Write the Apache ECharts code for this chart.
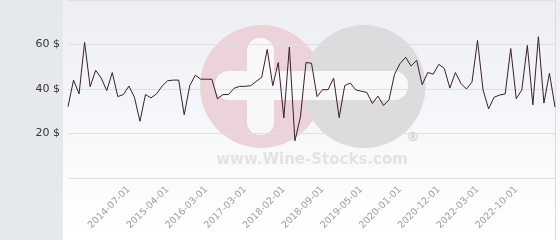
<!DOCTYPE html>
<html>
<head>
<meta charset="utf-8">
<script src="https://cdn.jsdelivr.net/npm/echarts@6/dist/echarts.min.js"></script>
<style>
html,body{margin:0;padding:0;background:#fff;}
#c{width:560px;height:240px;}
</style>
</head>
<body>
<div id="c"></div>
<script>
const categories = [
 '2013-08-01','2013-09-01','2013-10-01','2013-11-01','2013-12-01','2014-01-01','2014-02-01','2014-03-01','2014-04-01','2014-05-01','2014-06-01',
 '2014-07-01','2014-08-01','2014-09-01','2014-10-01','2014-12-01','2015-01-01','2015-03-01',
 '2015-04-01','2015-05-01','2015-07-01','2015-09-01','2015-10-01','2015-12-01','2016-01-01',
 '2016-03-01','2016-05-01','2016-06-01','2016-08-01','2016-10-01','2016-11-01','2017-01-01',
 '2017-03-01','2017-04-01','2017-06-01','2017-07-01','2017-09-01','2017-10-01','2017-12-01',
 '2018-02-01','2018-03-01','2018-04-01','2018-05-01','2018-06-01','2018-07-01','2018-08-01',
 '2018-09-01','2018-10-01','2018-11-01','2018-12-01','2019-01-01','2019-03-01','2019-04-01',
 '2019-05-01','2019-06-01','2019-07-01','2019-08-01','2019-09-01','2019-10-01','2019-11-01',
 '2020-01-01','2020-02-01','2020-04-01','2020-05-01','2020-07-01','2020-08-01','2020-10-01',
 '2020-12-01','2021-02-01','2021-04-01','2021-06-01','2021-08-01','2021-10-01','2021-12-01',
 '2022-03-01','2022-04-01','2022-05-01','2022-06-01','2022-07-01','2022-08-01','2022-09-01',
 '2022-10-01','2022-11-01','2022-12-01','2023-01-01','2023-02-01','2023-03-01','2023-04-01','2023-05-01'
];
const prices = [
 32.1,44.0,37.8,61.0,41.0,48.4,44.9,39.3,47.4,36.6,37.5,
 41.3,36.3,25.5,37.5,36.0,37.8,41.3,
 43.7,44.0,44.0,28.4,41.5,46.2,44.4,
 44.4,44.4,35.6,37.5,37.5,40.3,41.2,
 41.2,41.5,43.4,45.2,57.8,41.5,51.9,
 27.0,58.8,16.7,27.4,51.9,51.6,36.6,
 39.7,39.7,44.9,27.1,41.5,42.7,39.6,
 39.0,38.5,33.5,36.8,32.6,35.1,46.6,
 51.4,54.3,50.3,52.9,41.9,47.4,46.7,
 51.1,49.2,40.4,47.4,42.5,40.0,43.1,
 61.8,39.6,31.1,36.3,37.3,37.8,58.2,
 35.6,39.6,59.6,32.9,63.5,33.7,47.1,31.9
];
const tickLabels = ['2014-07-01','2015-04-01','2016-03-01','2017-03-01','2018-02-01','2018-09-01','2019-05-01','2020-01-01','2020-12-01','2022-03-01','2022-10-01'];
const yTicks = [20, 40, 60];

const chart = echarts.init(document.getElementById('c'), null, {renderer:'canvas'});
const font = 'DejaVu Sans';
chart.setOption({
  animation: false,
  backgroundColor: 'transparent',
  textStyle: {fontFamily: font},
  graphic: [
    {type:'rect', z:-20, shape:{x:0,y:0,width:63,height:240}, style:{fill:'#e6e9ec'}},
    {type:'rect', z:-20, shape:{x:63,y:0,width:497,height:240},
      style:{fill:new echarts.graphic.LinearGradient(0,0,0,1,[{offset:0,color:'#eceef3'},{offset:0.85,color:'#fdfdfe'},{offset:1,color:'#ffffff'}])}},
    {type:'line', z:-19, shape:{x1:555.5,y1:0,x2:555.5,y2:240}, style:{stroke:'#dcdcdc',lineWidth:1}},
    {type:'circle', z:-15, shape:{cx:261.5,cy:86.5,r:61.5}, style:{fill:'#ebd3d9'}},
    {type:'circle', z:-14, shape:{cx:364,cy:86.5,r:61.5}, style:{fill:'#dcdcde'}},
    {type:'rect', z:-13, shape:{x:247,y:38,width:27,height:97,r:13}, style:{fill:'#f8f8fa'}},
    {type:'rect', z:-13, shape:{x:215,y:71,width:193,height:29,r:14}, style:{fill:'#f8f8fa'}},
    {type:'text', z:-13, x:413, y:138, style:{text:'®', fill:'#d2d2d5', font:'bold 13px '+font, align:'center', verticalAlign:'middle'}},
    {type:'text', z:-13, x:312, y:160, style:{text:'www.Wine-Stocks.com', fill:'#e3e3e5', font:'bold 15px '+font, align:'center', verticalAlign:'middle'}}
  ],
  grid: {left:68, right:5, top:-2, bottom:62, containLabel:false},
  xAxis: {
    type:'category',
    data: categories,
    boundaryGap:false,
    axisLine:{show:false},
    axisTick:{show:false},
    splitLine:{show:false},
    axisLabel:{
      interval:(idx, val) => tickLabels.includes(val),
      rotate:45,
      margin:10,
      color:'#9c9c9c',
      fontSize:9.5,
      fontFamily:font
    }
  },
  yAxis: {
    type:'value',
    min:0, max:80, interval:20,
    axisLine:{show:false},
    axisTick:{show:false},
    splitLine:{lineStyle:{color:'#e0e0e0', width:1}},
    axisLabel:{
      margin:8,
      color:'#333',
      fontSize:11,
      fontFamily:font,
      formatter:v => yTicks.includes(v) ? v + ' $' : ''
    }
  },
  series:[{
    type:'line',
    data: prices,
    showSymbol:false,
    symbol:'none',
    lineStyle:{color:'#3b1e2b', width:1},
    z:5
  }]
});
</script>
</body>
</html>
